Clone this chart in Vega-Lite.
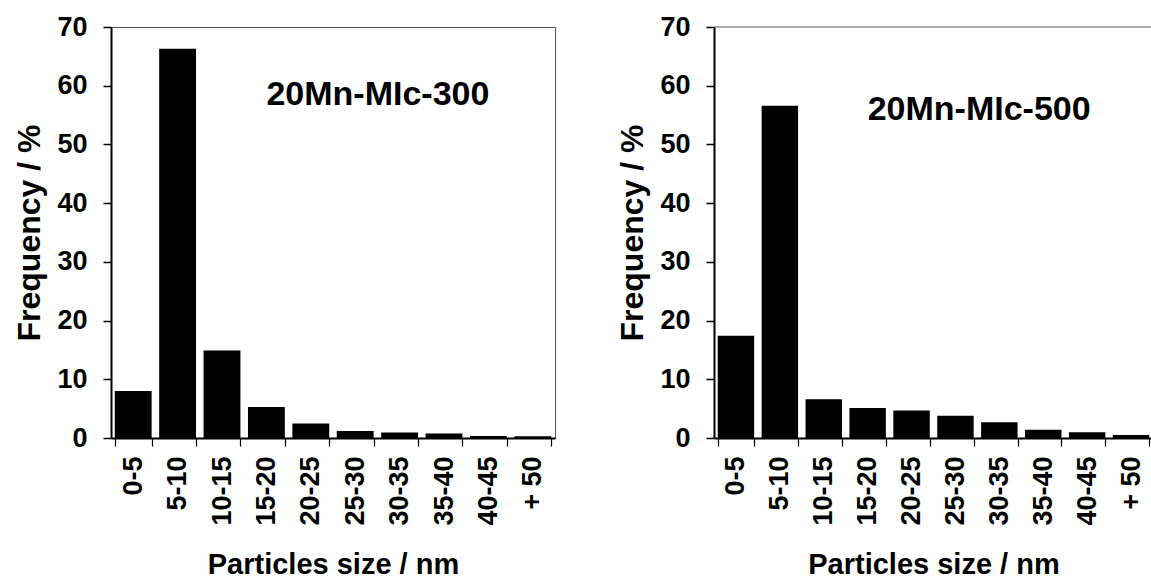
{
  "$schema": "https://vega.github.io/schema/vega-lite/v6.json",
  "padding": {"left": 13, "top": 12, "right": 0, "bottom": 0},
  "background": "white",
  "spacing": 60,
  "datasets": {
    "d": [
      {"sample": "300", "size": "0-5", "freq": 8.0},
      {"sample": "300", "size": "5-10", "freq": 66.3},
      {"sample": "300", "size": "10-15", "freq": 14.9},
      {"sample": "300", "size": "15-20", "freq": 5.3},
      {"sample": "300", "size": "20-25", "freq": 2.45},
      {"sample": "300", "size": "25-30", "freq": 1.2},
      {"sample": "300", "size": "30-35", "freq": 0.92},
      {"sample": "300", "size": "35-40", "freq": 0.75},
      {"sample": "300", "size": "40-45", "freq": 0.34},
      {"sample": "300", "size": "+ 50", "freq": 0.3},
      {"sample": "500", "size": "0-5", "freq": 17.4},
      {"sample": "500", "size": "5-10", "freq": 56.6},
      {"sample": "500", "size": "10-15", "freq": 6.6},
      {"sample": "500", "size": "15-20", "freq": 5.1},
      {"sample": "500", "size": "20-25", "freq": 4.7},
      {"sample": "500", "size": "25-30", "freq": 3.8},
      {"sample": "500", "size": "30-35", "freq": 2.7},
      {"sample": "500", "size": "35-40", "freq": 1.4},
      {"sample": "500", "size": "40-45", "freq": 0.97},
      {"sample": "500", "size": "+ 50", "freq": 0.5}
    ]
  },
  "config": {
    "font": "Liberation Sans",
    "view": {"stroke": "#555555", "strokeWidth": 1},
    "axis": {
      "labelFont": "Liberation Sans",
      "labelFontWeight": "bold",
      "labelColor": "black",
      "titleFont": "Liberation Sans",
      "titleFontWeight": "bold",
      "titleColor": "black",
      "domainColor": "black",
      "tickColor": "black",
      "grid": false
    },
    "axisX": {
      "tickBand": "extent",
      "labelAngle": -90,
      "labelFontSize": 27,
      "labelPadding": 10,
      "tickSize": 8,
      "tickWidth": 1.2,
      "domainWidth": 2,
      "titleFontSize": 29,
      "titlePadding": 25
    },
    "axisY": {
      "tickSize": 8,
      "tickWidth": 1.5,
      "domainWidth": 2,
      "labelFontSize": 27,
      "labelPadding": 16,
      "titleFontSize": 32,
      "titlePadding": 10
    }
  },
  "hconcat": [
    {
      "width": 444,
      "height": 411,
      "layer": [
        {
          "data": {"name": "d"},
          "transform": [{"filter": "datum.sample == '300'"}],
          "mark": {"type": "bar", "color": "black"},
          "encoding": {
            "x": {
              "field": "size", "type": "ordinal", "sort": null,
              "scale": {"paddingInner": 0.17, "paddingOuter": 0.085},
              "axis": {"title": "Particles size / nm"}
            },
            "y": {
              "field": "freq", "type": "quantitative",
              "scale": {"domain": [0, 70]},
              "axis": {"values": [0, 10, 20, 30, 40, 50, 60, 70], "title": "Frequency / %"}
            }
          }
        },
        {
          "data": {"values": [{}]},
          "mark": {"type": "text", "align": "left", "baseline": "alphabetic", "fontSize": 34, "fontWeight": "bold", "font": "Liberation Sans", "color": "black"},
          "encoding": {
            "x": {"datum": "15-20", "type": "ordinal"},
            "y": {"datum": 56.7, "type": "quantitative"},
            "text": {"value": "20Mn-MIc-300"}
          }
        }
      ]
    },
    {
      "width": 439,
      "height": 411,
      "view": {"stroke": null},
      "layer": [
        {
          "data": {"values": [{}]},
          "mark": {"type": "rule", "color": "#555555", "strokeWidth": 1},
          "encoding": {"y": {"datum": 70, "type": "quantitative"}}
        },
        {
          "data": {"name": "d"},
          "transform": [{"filter": "datum.sample == '500'"}],
          "mark": {"type": "bar", "color": "black"},
          "encoding": {
            "x": {
              "field": "size", "type": "ordinal", "sort": null,
              "scale": {"paddingInner": 0.17, "paddingOuter": 0.085},
              "axis": {"title": "Particles size / nm"}
            },
            "y": {
              "field": "freq", "type": "quantitative",
              "scale": {"domain": [0, 70]},
              "axis": {"values": [0, 10, 20, 30, 40, 50, 60, 70], "title": "Frequency / %"}
            }
          }
        },
        {
          "data": {"values": [{}]},
          "mark": {"type": "text", "align": "left", "baseline": "alphabetic", "fontSize": 34, "fontWeight": "bold", "font": "Liberation Sans", "color": "black"},
          "encoding": {
            "x": {"datum": "15-20", "type": "ordinal"},
            "y": {"datum": 54.2, "type": "quantitative"},
            "text": {"value": "20Mn-MIc-500"}
          }
        }
      ]
    }
  ]
}
